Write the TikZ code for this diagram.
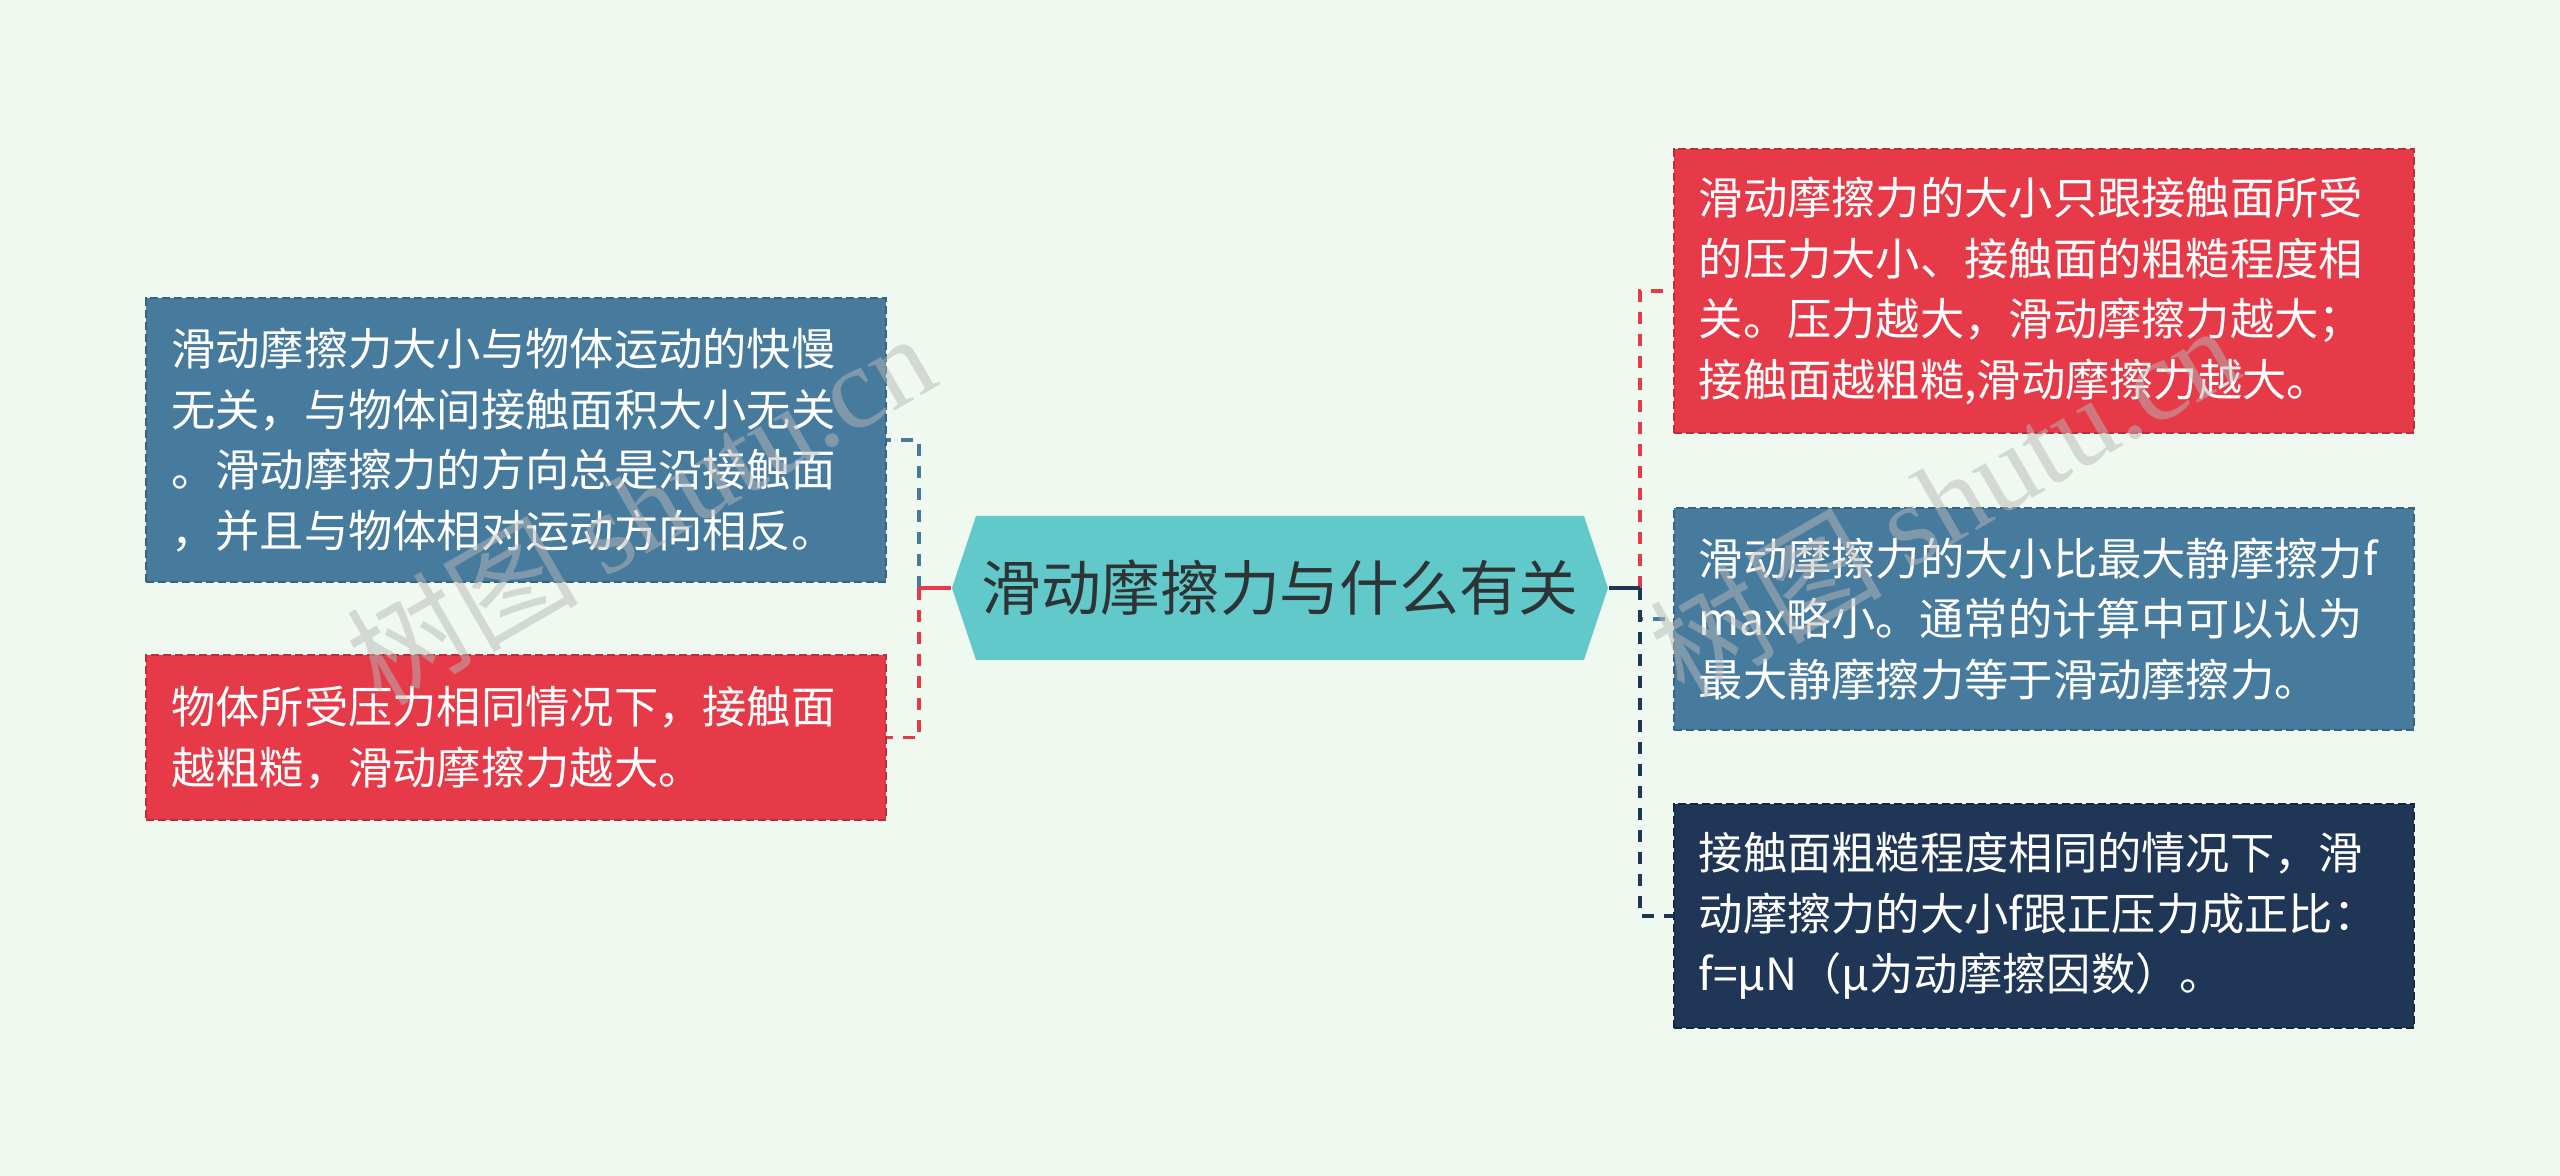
\documentclass[tikz,border=0pt]{standalone}
\usepackage{fontspec}
\setmainfont{Noto Sans CJK SC}
\newfontfamily\markfont{Liberation Serif}
\usepackage{tikz}
\usetikzlibrary{shapes.symbols, positioning}
\definecolor{bgmint}{HTML}{F0F9EF}
\definecolor{rootteal}{HTML}{62C9CB}
\definecolor{roottext}{HTML}{2E3436}
\definecolor{boxblue}{HTML}{467B9E}
\definecolor{boxred}{HTML}{E63A48}
\definecolor{boxnavy}{HTML}{1F3656}

\begin{document}
\begin{tikzpicture}[node distance=0.64cm]
    \tikzstyle{topicbox} = [signal, signal to=west and east, signal pointer angle=143.1, fill=rootteal, text=roottext, minimum width=6.56cm, minimum height=1.44cm, inner sep=0pt, font=\fontsize{17pt}{20pt}\selectfont]
    \tikzstyle{leaf} = [rectangle, text width=6.9cm, inner xsep=0.25cm, inner ysep=0pt, align=left, text=white, dash pattern=on 0.08cm off 0.04cm, line width=0.6pt, font=\fontsize{12.6pt}{17.2pt}\selectfont]
    \tikzstyle{link} = [line width=1.1pt, dash pattern=on 0.12cm off 0.1cm]
    \tikzstyle{stub} = [line width=1.1pt]
    \tikzstyle{watermark} = [rotate=30, text=black!28, text opacity=0.5, font=\fontsize{33pt}{33pt}\selectfont]

    \fill[bgmint] (-12.8,5.88) rectangle (12.8,-5.88);

    \node (topic) [topicbox] {滑动摩擦力与什么有关};

    \node (lblue) [leaf, fill=boxblue, draw=boxblue!80!black, minimum height=2.84cm, left=of topic, yshift=1.48cm] {滑动摩擦力大小与物体运动的快慢\\无关，与物体间接触面积大小无关\\。滑动摩擦力的方向总是沿接触面\\，并且与物体相对运动方向相反。};
    \node (lred) [leaf, fill=boxred, draw=boxred!80!black, minimum height=1.65cm, left=of topic, yshift=-1.495cm] {物体所受压力相同情况下，接触面\\越粗糙，滑动摩擦力越大。};

    \node (rred) [leaf, fill=boxred, draw=boxred!80!black, minimum height=2.84cm, right=of topic, yshift=2.97cm] {滑动摩擦力的大小只跟接触面所受\\的压力大小、接触面的粗糙程度相\\关。压力越大，滑动摩擦力越大；\\接触面越粗糙,滑动摩擦力越大。};
    \node (rblue) [leaf, fill=boxblue, draw=boxblue!80!black, minimum height=2.22cm, right=of topic, yshift=-0.31cm] {滑动摩擦力的大小比最大静摩擦力f\\max略小。通常的计算中可以认为\\最大静摩擦力等于滑动摩擦力。};
    \node (rnavy) [leaf, fill=boxnavy, draw=boxnavy!70!black, minimum height=2.24cm, right=of topic, yshift=-3.28cm] {接触面粗糙程度相同的情况下，滑\\动摩擦力的大小f跟正压力成正比：\\f=μN（μ为动摩擦因数）。};

    \coordinate (ljoin) at ([xshift=-0.32cm]topic.west);
    \coordinate (rjoin) at ([xshift=0.31cm]topic.east);

    \draw [link, boxblue] (ljoin) |- (lblue.east);
    \draw [link, boxred] (ljoin) |- (lred.east);
    \draw [link, boxblue] (rjoin) |- (rblue.west);
    \draw [link, boxred] (rjoin) |- (rred.west);
    \draw [link, boxnavy] (rjoin) |- (rnavy.west);
    \draw [stub, boxred] (topic.west) -- (ljoin);
    \draw [stub, boxnavy] (topic.east) -- (rjoin);

    \node (mark1) [watermark] at (-6.4,0.81) {树图 {\markfont shutu.cn}};
    \node (mark2) [watermark] at (6.63,0.89) {树图 {\markfont shutu.cn}};
\end{tikzpicture}
\end{document}
